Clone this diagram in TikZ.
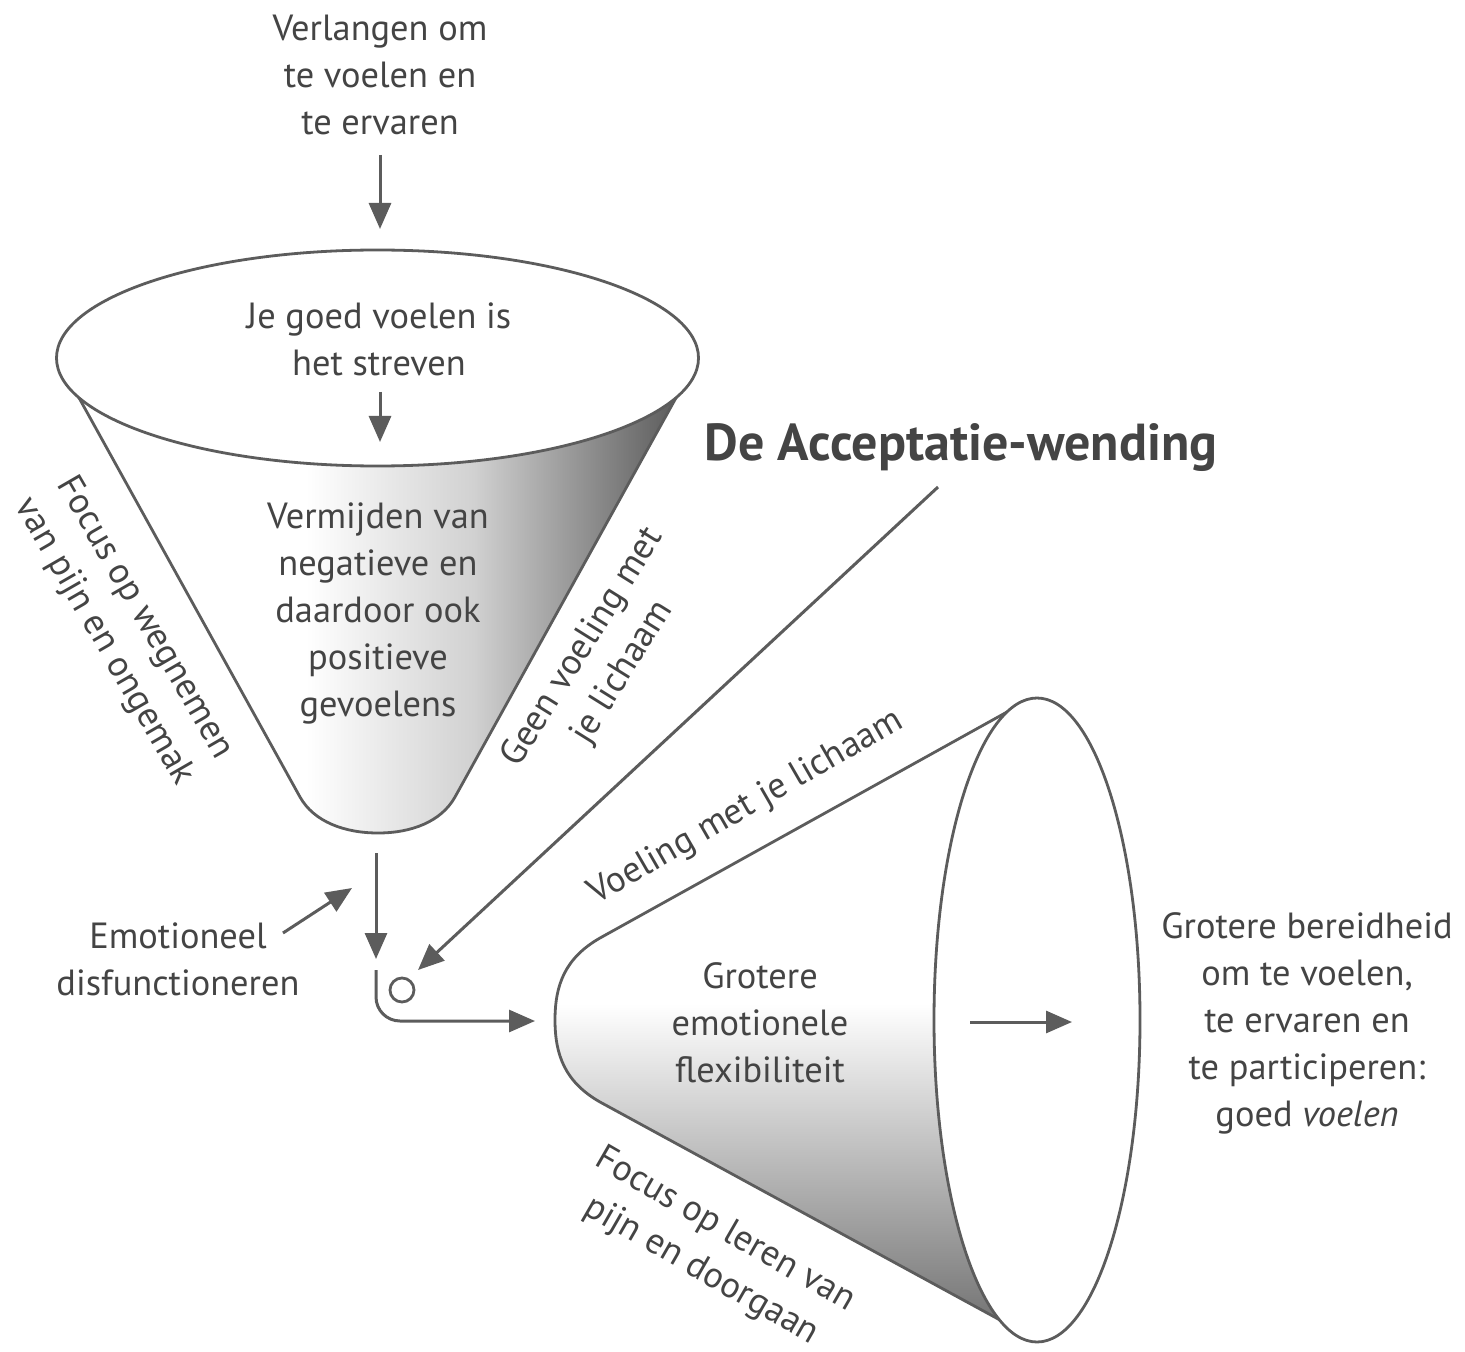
\documentclass[tikz,border=0pt]{standalone}
\usepackage{fontspec}
\setmainfont{PT Sans}
\usetikzlibrary{arrows.meta}
\definecolor{ink}{HTML}{444444}
\definecolor{edge}{HTML}{5C5C5C}
% shadings: the path's bounding box maps to 25bp..75bp
\pgfdeclarehorizontalshading{funnelshade}{100bp}{color(0bp)=(white); color(25bp)=(white); color(44bp)=(white); color(58bp)=(black!18); color(75bp)=(black!64); color(100bp)=(black!64)}
\pgfdeclareverticalshading{coneshade}{100bp}{color(0bp)=(black!54); color(25bp)=(black!54); color(51bp)=(white); color(75bp)=(white); color(100bp)=(white)}
\tikzset{
  txt/.style={text=ink, align=center, inner sep=0pt, font=\fontsize{18.2}{23.5}\selectfont},
  title/.style={text=ink, inner sep=0pt, font=\fontsize{26}{30}\selectfont\bfseries},
  outline/.style={draw=edge, line width=1.4pt},
  arr/.style={draw=edge, line width=1.5pt, -{Triangle[length=13pt,width=11pt]}},
}
\begin{document}
\begin{tikzpicture}[x=0.5pt, y=-0.5pt]
\useasboundingbox (0,0) rectangle (1465,1352);

% ---- upper funnel ----
\shade[shading=funnelshade]
  (78,396) -- (300,797) .. controls (314,822) and (345,833) .. (378,833)
  .. controls (411,833) and (441,822) .. (455,797) -- (677,396) -- cycle;
\draw[outline]
  (78,396) -- (300,797) .. controls (314,822) and (345,833) .. (378,833)
  .. controls (411,833) and (441,822) .. (455,797) -- (677,396);
\draw[outline, fill=white] (377.5,358) ellipse [x radius=321, y radius=108];

% ---- lower cone ----
\shade[shading=coneshade]
  (1007,712) -- (600,938) .. controls (565,958) and (555,985) .. (555,1020)
  .. controls (555,1055) and (565,1082) .. (600,1102) -- (1000,1320) -- cycle;
\draw[outline]
  (1007,712) -- (600,938) .. controls (565,958) and (555,985) .. (555,1020)
  .. controls (555,1055) and (565,1082) .. (600,1102) -- (1000,1320);
\draw[outline, fill=white] (1037,1020) ellipse [x radius=103, y radius=322];

% ---- texts ----
\node[txt] (verlangen) at (380,75) {Verlangen om\\te voelen en\\te ervaren};
\node[txt] (streven) at (379,339) {Je goed voelen is\\het streven};
\node[txt] (vermijden) at (378,613) {Vermijden van\\negatieve en\\daardoor ook\\positieve\\gevoelens};
\node[txt, rotate=-60] (wegnemen) at (124,630) {Focus op wegnemen\\van pijn en ongemak};
\node[txt, rotate=58] (geen) at (603,660) {Geen voeling met\\je lichaam};
\node[title] (acc) at (961,448) {De Acceptatie-wending};
\node[txt] (emo) at (178,959) {Emotioneel\\disfunctioneren};
\node[draw=edge, line width=1.4pt, circle, minimum size=12pt, inner sep=0pt] (turn) at (402,990) {};
\node[txt, rotate=30] (voeling) at (746,808) {Voeling met je lichaam};
\node[txt] (flex) at (760,1023) {Grotere\\emotionele\\flexibiliteit};
\node[txt, rotate=-30] (leren) at (713,1251) {Focus op leren van\\pijn en doorgaan};
\node[txt] (bereid) at (1307,1023) {Grotere bereidheid\\om te voelen,\\te ervaren en\\te participeren:\\goed \textit{voelen}};

% ---- connector end points ----
\coordinate (a1s) at (380,155);  \coordinate (a1e) at (380,229);
\coordinate (a2s) at (380,392);  \coordinate (a2e) at (380,442);
\coordinate (a3s) at (376,853);  \coordinate (a3e) at (376,959);
\coordinate (accs) at (938,487); \coordinate (acce) at (418,970);
\coordinate (emos) at (283,933); \coordinate (emoe) at (352,888);
\coordinate (hooks) at (376,970); \coordinate (hooke) at (535,1021);
\coordinate (ins) at (970,1022); \coordinate (ine) at (1072,1022);

% ---- connectors ----
\draw[arr] (a1s) -- (a1e);
\draw[arr] (a2s) -- (a2e);
\draw[arr] (a3s) -- (a3e);
\draw[arr] (accs) -- (acce);
\draw[arr] (emos) -- (emoe);
\draw[arr, rounded corners=12pt] (hooks) |- (hooke);
\draw[arr] (ins) -- (ine);
\end{tikzpicture}
\end{document}
